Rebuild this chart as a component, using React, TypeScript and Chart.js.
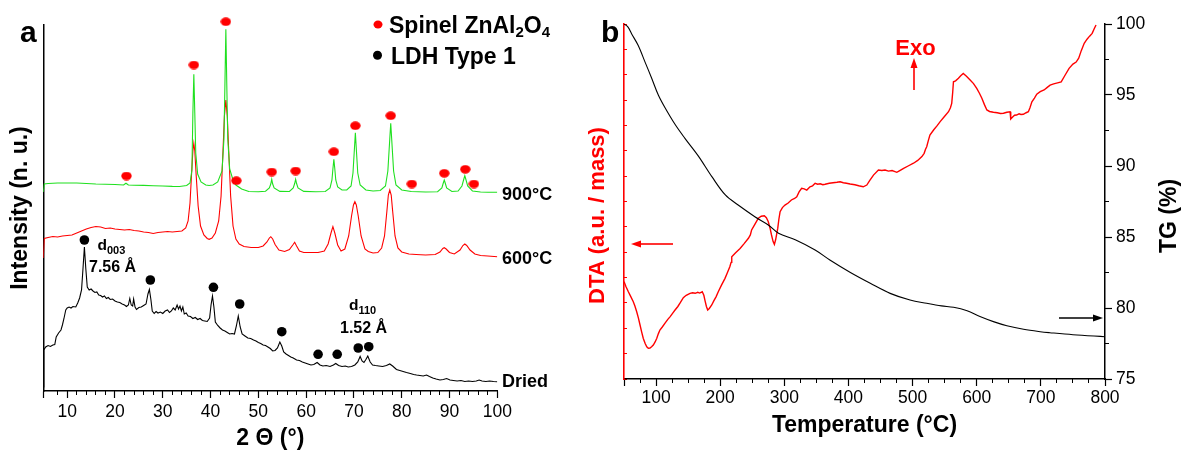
import React, { useEffect, useRef } from 'react';
import { Chart, registerables } from 'chart.js';

Chart.register(...registerables);

const FONT = "'Liberation Sans', Arial, Helvetica, sans-serif";

type Pt = [number, number];

// ---------------- Panel a : XRD (2θ in °, intensity in arbitrary units) ----------------
const thetaTickLabels = [10, 20, 30, 40, 50, 60, 70, 80, 90, 100];

const xrd900: Pt[] = [
  [5.0, 199], [5.2, 207], [6, 207.5], [8, 208], [10, 208], [12, 208], [14, 207.5], [16, 207], [18, 206.8],
  [20, 206.5], [21.8, 206], [22.3, 207.8], [22.8, 206], [24, 205.8], [26, 205.6], [28, 205.3], [30, 205],
  [32, 204.6], [33.5, 204.5], [35, 205.5], [35.7, 208], [36.1, 221], [36.3, 278], [36.5, 316.7], [36.7, 278],
  [36.9, 238], [37.3, 217], [38, 209], [39, 206], [39.7, 205.5], [40.5, 206], [41.5, 209], [42.4, 220],
  [42.8, 252], [43.0, 305], [43.2, 361.7], [43.4, 305], [43.6, 252], [44.0, 222], [44.7, 211], [45.3, 206],
  [46.5, 202], [48, 199.5], [50, 199.3], [51.5, 199.8], [52.3, 203], [52.6, 207], [52.8, 211.7], [53.0, 207],
  [53.3, 203], [54.5, 199.6], [56.5, 199.5], [57.3, 203], [57.6, 207.5], [57.8, 211.7], [58.0, 207.5],
  [58.3, 203], [59.5, 199.6], [62, 199.3], [64, 199.5], [65.0, 203], [65.4, 211], [65.6, 222], [65.8, 231.7],
  [66.0, 222], [66.2, 211], [66.6, 204], [67.5, 201], [68.5, 201], [69.4, 205], [69.8, 218], [70.1, 242],
  [70.3, 258.3], [70.5, 242], [70.8, 218], [71.3, 206], [72.5, 201], [74, 200], [75.5, 200.5], [76.6, 205],
  [77.1, 220], [77.5, 252], [77.7, 267.7], [77.9, 252], [78.3, 220], [78.8, 206], [80, 201], [82, 199.5],
  [85, 199], [87.5, 199.3], [88.4, 203], [88.7, 208], [88.9, 211], [89.1, 208], [89.4, 203], [90.5, 199.5],
  [91.8, 200], [92.6, 205], [93.0, 212], [93.2, 215.3], [93.4, 212], [93.8, 205], [94.8, 200], [96.5, 199],
  [98, 198.8], [100, 198.7],
];

const xrd600: Pt[] = [
  [5.0, 133], [5.2, 152.5], [6, 153.5], [7, 154.5], [8, 154], [9, 155], [10, 155.5], [11, 156], [12, 158],
  [13, 160], [14, 162], [15, 163.5], [16, 164.5], [17, 164], [18, 162.5], [19, 163], [20, 162], [21, 161.5],
  [22, 161], [23, 161.5], [24, 160.5], [25, 160], [26, 159], [27, 158.5], [28, 157.5], [29, 158.5], [30, 159],
  [31, 159.5], [32, 159], [33, 159.5], [34, 160], [34.8, 163], [35.3, 170], [35.7, 188], [36.0, 215],
  [36.3, 240], [36.5, 247.7], [36.7, 240], [37.0, 215], [37.4, 185], [37.9, 165], [38.6, 156], [39.3, 152.5],
  [39.7, 151.7], [40.3, 153], [41, 158], [41.7, 170], [42.2, 195], [42.6, 240], [42.9, 275], [43.2, 291],
  [43.5, 275], [43.8, 240], [44.2, 195], [44.7, 165], [45.3, 152], [46, 147], [47, 144.5], [48.5, 143.5],
  [50, 143.5], [51, 145], [51.8, 149], [52.3, 153], [52.6, 154.3], [53, 152], [53.5, 146.5], [54.3, 141],
  [55.5, 139.5], [56.5, 141.5], [57.2, 146], [57.6, 148.7], [58, 145], [58.6, 140], [59.5, 138.5], [61, 138.5],
  [62.5, 138.5], [63.8, 140], [64.6, 147], [65.2, 158], [65.6, 164.3], [66, 158], [66.6, 146], [67.3, 140],
  [68.1, 142], [68.9, 155], [69.5, 175], [69.9, 186], [70.2, 189.3], [70.5, 186], [70.9, 175], [71.5, 155],
  [72.3, 142], [73, 139.5], [74, 138], [75, 138.5], [75.8, 143], [76.4, 155], [76.9, 180], [77.2, 196],
  [77.5, 201], [77.8, 196], [78.1, 180], [78.6, 155], [79.2, 143], [80, 139], [81.5, 137], [83, 136.5],
  [85, 136], [87, 136.5], [88, 139], [88.6, 142.5], [88.9, 143.3], [89.3, 142], [90, 138.5], [91, 137],
  [92.2, 141], [92.8, 145.5], [93.2, 147], [93.6, 145.5], [94.3, 141], [95.3, 137], [96.5, 135.5], [98, 135],
  [100, 134.3],
];

const xrdDried: Pt[] = [
  [5.0, 4], [5.1, 41], [5.5, 44], [6.0, 45.5], [6.5, 44.5], [7.0, 46], [7.4, 46.5], [7.7, 54], [8.2, 58],
  [8.7, 61], [9.0, 66], [9.3, 72], [9.7, 81], [10.0, 83], [10.4, 84], [10.8, 83], [11.2, 84.5], [11.8, 84],
  [12.2, 88], [12.6, 93], [13.0, 101], [13.3, 122], [13.6, 144], [13.9, 122], [14.2, 104], [14.6, 101],
  [15.0, 102], [15.4, 100], [15.8, 98.5], [16.2, 99], [16.6, 96], [17.0, 95.5], [17.4, 94], [17.8, 95],
  [18.2, 92.5], [18.6, 93.5], [19.0, 91.5], [19.5, 92], [20.0, 90], [20.5, 89], [21.0, 88.5], [21.5, 87],
  [22.0, 86], [22.4, 84.5], [22.8, 86], [23.1, 92.5], [23.4, 86], [23.7, 85], [23.9, 92], [24.2, 84],
  [24.5, 81.5], [25.0, 83.5], [25.5, 84], [26.0, 85.5], [26.5, 87], [26.9, 97], [27.2, 101.5], [27.5, 92],
  [27.8, 80], [28.2, 77.5], [28.6, 79.5], [29.0, 78], [29.5, 79], [30.0, 77.5], [30.5, 80], [31.0, 81],
  [31.4, 78.5], [31.8, 80], [32.2, 83], [32.6, 81], [33.0, 86], [33.3, 82], [33.6, 85], [33.9, 80], [34.2, 84],
  [34.5, 77], [34.9, 78], [35.3, 75], [35.8, 74.5], [36.3, 72.5], [36.8, 73.5], [37.3, 71.5], [37.8, 72.5],
  [38.3, 70.5], [38.8, 70], [39.3, 69.5], [39.8, 73], [40.1, 86], [40.4, 95], [40.7, 84], [41.0, 69],
  [41.5, 65.5], [42.0, 63], [42.5, 61], [43.0, 60], [43.5, 58.5], [44.0, 57], [44.5, 57.5], [45.0, 57],
  [45.4, 65], [45.8, 75], [46.2, 64], [46.6, 57], [47.2, 55], [47.8, 53], [48.4, 52.5], [49.0, 51], [49.5, 50],
  [50.0, 48.5], [50.5, 47.5], [51.0, 46], [51.5, 45.5], [52.0, 44], [52.5, 42.5], [53.0, 40], [53.5, 40.5],
  [54.0, 43], [54.5, 49], [54.9, 45], [55.3, 39], [55.8, 37], [56.3, 35.5], [56.8, 34], [57.3, 33], [58.0, 31],
  [58.6, 30.5], [59.2, 29], [59.8, 28], [60.4, 27], [61.0, 26], [61.6, 26.5], [62.3, 28.5], [62.9, 26],
  [63.5, 25], [64.2, 25.5], [65.0, 24.5], [65.7, 26], [66.2, 27.5], [66.8, 25.5], [67.5, 24.5], [68.2, 25],
  [68.8, 24], [69.5, 24.5], [70.2, 26], [70.8, 29], [71.3, 34.5], [71.7, 30], [72.1, 28.5], [72.5, 31.5],
  [72.9, 35], [73.4, 29], [73.9, 26], [74.5, 25.5], [75.2, 25], [76.0, 24.5], [76.8, 25.5], [77.5, 27],
  [78.1, 25], [78.9, 21.5], [79.6, 20.5], [80.3, 19.5], [81.0, 18.5], [81.8, 17.5], [82.5, 16.5], [83.1, 16],
  [83.8, 15.5], [84.5, 15], [85.2, 16], [85.8, 14.5], [86.5, 13], [87.2, 12], [88.0, 11], [88.7, 11.5],
  [89.4, 12.5], [90.1, 11], [90.8, 10.5], [91.6, 10], [92.4, 10.5], [93.2, 9.5], [94.0, 10], [94.8, 9.5],
  [95.6, 10], [96.2, 11], [96.8, 10], [97.6, 9.5], [98.4, 10], [99.2, 9.5], [100.0, 9.3],
];

const spinelMarks: Pt[] = [
  [22.4, 215], [36.5, 326], [43.2, 369.3], [45.4, 210.3], [52.8, 219], [57.8, 220], [65.8, 239.3],
  [70.3, 265.3], [77.7, 275.3], [82.1, 207], [88.9, 217.7], [93.3, 221.7], [95.1, 207],
];

const ldhMarks: Pt[] = [
  [13.6, 151], [27.4, 111], [40.6, 103.7], [46.1, 87], [54.9, 59.3], [62.5, 36.7], [66.5, 36.7],
  [70.9, 43], [73.1, 44.3],
];

// ---------------- Panel b : DTA / TG ----------------
const tempTickLabels = [100, 200, 300, 400, 500, 600, 700, 800];
const tgTickLabels = [75, 80, 85, 90, 95, 100];

const tgCurve: Pt[] = [
  [50, 100.0], [56, 99.8], [62, 99.3], [72, 98.5], [83, 97.3], [93, 96.2], [103.5, 95.0], [114, 94.1],
  [130, 92.9], [145, 91.95], [166, 90.7], [187, 89.25], [208, 87.96], [228, 87.25], [254, 86.43],
  [275, 85.85], [291, 85.26], [317, 84.8], [348, 84.08], [371, 83.38], [403, 82.5], [434, 81.74],
  [465, 81.03], [496, 80.56], [522, 80.33], [545, 80.15], [564, 80.05], [585, 79.8], [605, 79.4],
  [626, 79.04], [647, 78.75], [673, 78.5], [699, 78.33], [714, 78.26], [750, 78.12], [800, 77.98],
];

const dtaCurve: Pt[] = [
  [50, 3.84], [53, 3.65], [56.8, 3.44], [60, 3.28], [64.5, 3.05], [67, 2.88], [69.8, 2.65], [72.5, 2.4],
  [75, 2.13], [77.5, 1.86], [80.1, 1.6], [83, 1.4], [85.5, 1.27], [87.9, 1.21], [90.5, 1.22], [93, 1.27],
  [95.7, 1.34], [98.5, 1.46], [101, 1.6], [103.5, 1.78], [106, 1.93], [110, 2.06], [114, 2.2], [118, 2.34],
  [122, 2.46], [126, 2.6], [129.6, 2.72], [134, 2.86], [138, 3.02], [142.5, 3.21], [147, 3.3], [150, 3.34],
  [153, 3.38], [157, 3.4], [161, 3.38], [165, 3.42], [168, 3.39], [172, 3.44], [174.5, 3.3], [176.4, 3.08],
  [178.5, 2.86], [180.5, 2.72], [183, 2.78], [186.8, 2.92], [190, 3.08], [193.5, 3.24], [197, 3.44],
  [202, 3.7], [207.5, 3.97], [211, 4.18], [215, 4.43], [217, 4.6], [218, 4.82], [224, 4.98], [231, 5.15],
  [237, 5.33], [244, 5.55], [247, 5.68], [249, 5.88], [254, 6.1], [259.5, 6.34], [264, 6.42], [268.8, 6.44],
  [272, 6.36], [275, 6.2], [278, 5.92], [280, 5.68], [282.5, 5.42], [284.5, 5.31], [286.5, 5.5],
  [289.7, 5.94], [291.5, 6.3], [293.4, 6.6], [297, 6.76], [301, 6.86], [306, 6.94], [311, 7.06], [316, 7.12],
  [319.4, 7.19], [323, 7.38], [327, 7.52], [331, 7.5], [335, 7.45], [340, 7.58], [344, 7.62], [348, 7.72],
  [352, 7.68], [356, 7.7], [360, 7.66], [363.6, 7.68], [370, 7.72], [376, 7.74], [382, 7.76], [387, 7.78],
  [392, 7.74], [397, 7.72], [402.6, 7.69], [410, 7.66], [416, 7.62], [423, 7.58], [428.6, 7.65], [433, 7.82],
  [439, 8.04], [446.7, 8.24], [452, 8.22], [457, 8.24], [462.4, 8.2], [468, 8.22], [475.4, 8.15], [480, 8.22],
  [486, 8.31], [493, 8.4], [501.4, 8.51], [508, 8.62], [514.5, 8.77], [518, 8.9], [520, 9.05], [522, 9.16],
  [524.5, 9.4], [527, 9.62], [533, 9.83], [538, 9.98], [543, 10.15], [549, 10.33], [556, 10.54], [559, 10.7],
  [561, 10.87], [562.5, 11.3], [563.7, 11.72], [567, 11.76], [571.5, 11.86], [575, 11.96], [579, 12.05],
  [584, 11.94], [589.7, 11.79], [595, 11.65], [600, 11.46], [604, 11.28], [608, 11.07], [612, 10.82],
  [615.8, 10.61], [620, 10.55], [626, 10.52], [632, 10.5], [637, 10.47], [641.7, 10.48], [647, 10.52],
  [652, 10.54], [653, 10.25], [656, 10.33], [659, 10.4], [662, 10.41], [666, 10.46], [669, 10.43],
  [672.7, 10.44], [677, 10.5], [680.5, 10.54], [683, 10.7], [686, 10.93], [690, 11.08], [693.6, 11.23],
  [699, 11.33], [705, 11.4], [710, 11.5], [714.4, 11.59], [720, 11.64], [726, 11.68], [731.7, 11.72],
  [737, 11.95], [744, 12.25], [750, 12.42], [755, 12.5], [759, 12.65], [763, 12.95], [767.6, 13.24],
  [772, 13.4], [776, 13.52], [780, 13.63], [783, 13.8], [786, 13.96],
];

// ---------------- helpers ----------------
const toXY = (a: Pt[]) => a.map(([x, y]) => ({ x, y }));

function ellipseSprite(w: number, h: number, color: string) {
  const c = document.createElement('canvas');
  c.width = w;
  c.height = h;
  const g = c.getContext('2d')!;
  g.fillStyle = color;
  g.beginPath();
  g.ellipse(w / 2, h / 2, w / 2 - 0.3, h / 2 - 0.3, 0, 0, Math.PI * 2);
  g.fill();
  return c;
}

// draw runs of text: [text, size, baselineShift]
function drawRuns(ctx: CanvasRenderingContext2D, x: number, y: number, runs: [string, number, number][]) {
  let cx = x;
  for (const [t, s, dy] of runs) {
    ctx.font = `bold ${s}px ${FONT}`;
    ctx.fillText(t, cx, y + dy);
    cx += ctx.measureText(t).width;
  }
}

function arrow(ctx: CanvasRenderingContext2D, x1: number, y1: number, x2: number, y2: number, color: string) {
  const ang = Math.atan2(y2 - y1, x2 - x1);
  const hl = 10, hw = 3.5;
  const bx = x2 - Math.cos(ang) * hl, by = y2 - Math.sin(ang) * hl;
  ctx.strokeStyle = color;
  ctx.fillStyle = color;
  ctx.lineWidth = 1.6;
  ctx.beginPath();
  ctx.moveTo(x1, y1);
  ctx.lineTo(bx, by);
  ctx.stroke();
  ctx.beginPath();
  ctx.moveTo(x2, y2);
  ctx.lineTo(bx - Math.sin(ang) * hw, by + Math.cos(ang) * hw);
  ctx.lineTo(bx + Math.sin(ang) * hw, by - Math.cos(ang) * hw);
  ctx.closePath();
  ctx.fill();
}

const annotA = {
  id: 'annotA',
  afterDraw(chart: any) {
    const ctx: CanvasRenderingContext2D = chart.ctx;
    ctx.save();
    ctx.textAlign = 'left';
    ctx.textBaseline = 'alphabetic';
    ctx.fillStyle = '#000';
    ctx.font = `bold 30px ${FONT}`;
    ctx.fillText('a', 20, 42);

    // legend
    ctx.fillStyle = '#ff0000';
    ctx.beginPath();
    ctx.ellipse(378, 24.5, 4.5, 4, 0, 0, Math.PI * 2);
    ctx.fill();
    ctx.fillStyle = '#000';
    ctx.beginPath();
    ctx.arc(377.5, 55.3, 4.5, 0, Math.PI * 2);
    ctx.fill();
    drawRuns(ctx, 389, 33, [['Spinel ZnAl', 23, 0], ['2', 15, 4], ['O', 23, 0], ['4', 15, 4]]);
    drawRuns(ctx, 391, 63.5, [['LDH Type 1', 23, 0]]);

    // series labels
    drawRuns(ctx, 502, 200, [['900°C', 18, 0]]);
    drawRuns(ctx, 502, 263.5, [['600°C', 18, 0]]);
    drawRuns(ctx, 502, 386.5, [['Dried', 18, 0]]);

    // reflections
    drawRuns(ctx, 97.5, 250, [['d', 15.5, 0], ['003', 11, 3.5]]);
    drawRuns(ctx, 89, 271.5, [['7.56 Å', 16, 0]]);
    drawRuns(ctx, 349, 310, [['d', 15.5, 0], ['110', 11, 3.5]]);
    drawRuns(ctx, 340, 332.5, [['1.52 Å', 16, 0]]);
    ctx.restore();
  },
};

const annotB = {
  id: 'annotB',
  afterDraw(chart: any) {
    const ctx: CanvasRenderingContext2D = chart.ctx;
    ctx.save();
    ctx.textAlign = 'left';
    ctx.textBaseline = 'alphabetic';
    ctx.fillStyle = '#000';
    ctx.font = `bold 30px ${FONT}`;
    ctx.fillText('b', 21, 42);

    ctx.fillStyle = '#ff0000';
    ctx.textAlign = 'center';
    ctx.font = `bold 22px ${FONT}`;
    ctx.fillText('Exo', 335.5, 55);
    arrow(ctx, 334, 90, 334, 58, '#ff0000');
    arrow(ctx, 93, 244, 51, 244, '#ff0000');
    arrow(ctx, 479, 318, 523, 318, '#000000');

    // vertical axis titles
    ctx.textBaseline = 'middle';
    ctx.save();
    ctx.translate(18, 215.5);
    ctx.rotate(-Math.PI / 2);
    ctx.fillStyle = '#ff0000';
    ctx.font = `bold 22px ${FONT}`;
    ctx.fillText('DTA (a.u. / mass)', 0, 0);
    ctx.restore();
    ctx.save();
    ctx.translate(590, 216);
    ctx.rotate(-Math.PI / 2);
    ctx.fillStyle = '#000';
    ctx.font = `bold 23px ${FONT}`;
    ctx.fillText('TG (%)', 0, 0);
    ctx.restore();
    ctx.restore();
  },
};

const tickFont = { family: FONT, size: 17.5 };
const titleFont = { family: FONT, size: 23, weight: 'bold' as const, lineHeight: 1 };

export default function App() {
  const refA = useRef<HTMLCanvasElement>(null);
  const refB = useRef<HTMLCanvasElement>(null);

  useEffect(() => {
    Chart.defaults.font.family = FONT;
    const spinelDot = ellipseSprite(11, 9, '#ff0000');

    const chartA = new Chart(refA.current!, {
      type: 'scatter',
      data: {
        datasets: [
          { label: 'Spinel ZnAl2O4', data: toXY(spinelMarks), showLine: false, pointStyle: spinelDot as any, pointRadius: 5, clip: false as any },
          { label: 'LDH Type 1', data: toXY(ldhMarks), showLine: false, pointStyle: 'circle', pointRadius: 4.8, pointBorderWidth: 0, backgroundColor: '#000', borderColor: '#000', clip: false as any },
          { label: '900°C', data: toXY(xrd900), showLine: true, borderColor: '#1fe01f', borderWidth: 1.1, pointRadius: 0, tension: 0 },
          { label: '600°C', data: toXY(xrd600), showLine: true, borderColor: '#ff0000', borderWidth: 1.1, pointRadius: 0, tension: 0 },
          { label: 'Dried', data: toXY(xrdDried), showLine: true, borderColor: '#000', borderWidth: 1.1, pointRadius: 0, tension: 0 },
        ],
      },
      options: {
        responsive: false,
        animation: false,
        devicePixelRatio: 1,
        events: [],
        layout: { padding: { left: 0, top: 25, right: 580 - 497.3, bottom: 0 }, autoPadding: false } as any,
        plugins: { legend: { display: false }, tooltip: { enabled: false } },
        scales: {
          xMinor: {
            type: 'linear', position: 'bottom', weight: -1, min: 5, max: 100,
            ticks: { display: false, stepSize: 2, autoSkip: false },
            grid: { drawOnChartArea: false, tickLength: 4, tickColor: '#000', tickWidth: 1 },
            border: { display: false },
            afterFit: (s: any) => { s.height = 0; },
          } as any,
          x: {
            type: 'linear', position: 'bottom', weight: 0, min: 5, max: 100,
            ticks: {
              stepSize: 10, autoSkip: false, maxRotation: 0, color: '#000', font: tickFont, padding: 4,
              callback: (v: any) => (thetaTickLabels.includes(Number(v)) ? String(v) : ''),
            },
            grid: { drawOnChartArea: false, tickLength: 7, tickColor: '#000', tickWidth: 1.2 },
            border: { display: true, color: '#000', width: 1.5 },
            title: { display: true, text: '2 Θ (°)', color: '#000', font: titleFont, padding: { top: 0, bottom: 0 } },
            afterFit: (s: any) => { s.height = 450 - 391; },
          } as any,
          y: {
            type: 'linear', position: 'left', min: 0, max: 366,
            ticks: { display: false },
            grid: { display: false },
            border: { display: true, color: '#000', width: 1.5 },
            title: { display: true, text: 'Intensity (n. u.)', color: '#000', font: titleFont, padding: { top: 9.5, bottom: 0 } },
            afterFit: (s: any) => { s.width = 43.3; },
          } as any,
        },
      },
      plugins: [annotA],
    } as any);

    const chartB = new Chart(refB.current!, {
      type: 'scatter',
      data: {
        datasets: [
          { label: 'TG', data: toXY(tgCurve), yAxisID: 'tg', showLine: true, borderColor: '#000', borderWidth: 1.1, pointRadius: 0, tension: 0.35 },
          { label: 'DTA', data: toXY(dtaCurve), yAxisID: 'dta', showLine: true, borderColor: '#ff0000', borderWidth: 1.4, pointRadius: 0, tension: 0 },
        ],
      },
      options: {
        responsive: false,
        animation: false,
        devicePixelRatio: 1,
        events: [],
        layout: { padding: { left: 0, top: 24, right: 0, bottom: 0 }, autoPadding: false } as any,
        plugins: { legend: { display: false }, tooltip: { enabled: false } },
        scales: {
          xMinor: {
            type: 'linear', position: 'bottom', weight: -1, min: 50, max: 800,
            ticks: { display: false, stepSize: 25, autoSkip: false },
            grid: { drawOnChartArea: false, tickLength: 4, tickColor: '#000', tickWidth: 1 },
            border: { display: false },
            afterFit: (s: any) => { s.height = 0; },
          } as any,
          x: {
            type: 'linear', position: 'bottom', weight: 0, min: 50, max: 800,
            ticks: {
              stepSize: 100, autoSkip: false, maxRotation: 0, color: '#000', font: tickFont, padding: 2,
              callback: (v: any) => (tempTickLabels.includes(Number(v)) ? String(v) : ''),
            },
            grid: { drawOnChartArea: false, tickLength: 7, tickColor: '#000', tickWidth: 1.2 },
            border: { display: true, color: '#000', width: 1.5 },
            title: { display: true, text: 'Temperature (°C)', color: '#000', font: titleFont, padding: { top: 0, bottom: 12.5 } },
            afterFit: (s: any) => { s.height = 450 - 379; },
          } as any,
          dta: {
            type: 'linear', position: 'left', min: 0, max: 14,
            ticks: { display: false, stepSize: 1, autoSkip: false },
            grid: { display: true, drawOnChartArea: false, tickLength: -3, tickColor: '#ff0000', tickWidth: 1 },
            border: { display: true, color: '#ff0000', width: 1.6 },
            afterFit: (s: any) => { s.width = 44; },
          } as any,
          tgMinor: {
            type: 'linear', position: 'right', weight: -1, min: 75, max: 100,
            ticks: { display: false, stepSize: 2.5, autoSkip: false },
            grid: { drawOnChartArea: false, tickLength: 4, tickColor: '#000', tickWidth: 1 },
            border: { display: false },
            afterFit: (s: any) => { s.width = 0; },
          } as any,
          tg: {
            type: 'linear', position: 'right', weight: 0, min: 75, max: 100,
            ticks: {
              stepSize: 5, autoSkip: false, color: '#000', font: tickFont, padding: 4,
              callback: (v: any) => (tgTickLabels.includes(Number(v)) ? String(v) : ''),
            },
            grid: { drawOnChartArea: false, tickLength: 7, tickColor: '#000', tickWidth: 1.2 },
            border: { display: true, color: '#000', width: 1.5 },
            afterFit: (s: any) => { s.width = 604 - 525; },
          } as any,
        },
      },
      plugins: [annotB],
    } as any);

    return () => {
      chartA.destroy();
      chartB.destroy();
    };
  }, []);

  return (
    <div style={{ position: 'absolute', left: 0, top: 0, width: 1184, height: 450, background: '#fff', overflow: 'hidden' }}>
      <canvas ref={refA} width={580} height={450} style={{ position: 'absolute', left: 0, top: 0, width: 580, height: 450 }} />
      <canvas ref={refB} width={604} height={450} style={{ position: 'absolute', left: 580, top: 0, width: 604, height: 450 }} />
    </div>
  );
}
